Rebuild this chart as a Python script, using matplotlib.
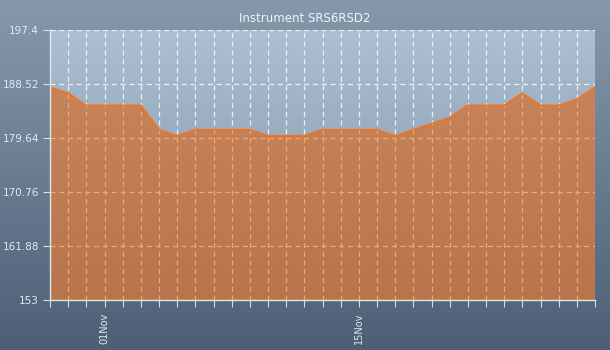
import matplotlib

matplotlib.use("Agg")
import matplotlib.pyplot as plt
import matplotlib.dates as mdates
import numpy as np
import pandas as pd

# --- data ---
dates = pd.date_range("2023-10-29", "2023-11-28", freq="D")
values = [188, 187, 185, 185, 185, 185, 181, 180, 181, 181, 181, 181, 180, 180, 180,
          181, 181, 181, 181, 180, 181, 182, 183, 185, 185, 185, 187, 185, 185, 186, 188]
y_ticks = [153, 161.88, 170.76, 179.64, 188.52, 197.4]
y_labels = ["153", "161.88", "170.76", "179.64", "188.52", "197.4"]
label_days = [1, 15]
title = "Instrument SRS6RSD2"

TXT = "#e4e9ef"
LINE = "#f07424"
DASH = (0, (4, 3))

fig = plt.figure(figsize=(6.1, 3.5), dpi=100)

# figure background gradient
bg = fig.add_axes([0, 0, 1, 1], zorder=-10)
grad = np.linspace(0, 1, 256).reshape(-1, 1)
top_c = np.array([0x86, 0x99, 0xac]) / 255
bot_c = np.array([0x4c, 0x5f, 0x75]) / 255
bg.imshow(top_c + (bot_c - top_c) * grad[..., None], aspect="auto", extent=[0, 1, 0, 1])
bg.set_axis_off()

ax = fig.add_axes([50 / 610, 50 / 350, 545 / 610, 270 / 350])
ax.set_facecolor("none")
x = mdates.date2num(dates)
x0, x1 = x[0], x[-1]
ylo, yhi = y_ticks[0], y_ticks[-1]

# plot-area gradient
pa_top = np.array([0xad, 0xbf, 0xd1]) / 255
pa_bot = np.array([0x7c, 0x90, 0xa6]) / 255
ax.imshow(pa_top + (pa_bot - pa_top) * grad[..., None], aspect="auto",
          extent=[x0, x1, ylo, yhi], zorder=0)

# white grid (visible above the area)
ax.set_xticks(x)
ax.set_yticks(y_ticks)
ax.grid(True, color="#eef1f4", ls=DASH, lw=0.9, zorder=1)

# filled area with vertical gradient
poly = ax.fill_between(x, values, ylo, color="none", lw=0, zorder=2)
clip = poly.get_paths()[0]
of_top = np.array([0xcb, 0x88, 0x5e]) / 255
of_bot = np.array([0xb8, 0x74, 0x4a]) / 255
fim = ax.imshow(of_top + (of_bot - of_top) * grad[..., None], aspect="auto",
                extent=[x0, x1, ylo, yhi], zorder=2)
fim.set_clip_path(clip, transform=ax.transData)

# light-orange grid inside the area
vl = ax.vlines(x, ylo, yhi, colors="#f4a66e", linestyles=DASH, lw=0.9, zorder=2.5)
hl = ax.hlines(y_ticks, x0, x1, colors="#f4a66e", linestyles=DASH, lw=0.9, zorder=2.5)
vl.set_clip_path(clip, transform=ax.transData)
hl.set_clip_path(clip, transform=ax.transData)

ax.plot(x, values, color=LINE, lw=1.3, zorder=3)

ax.set_xlim(x0, x1)
ax.set_ylim(ylo, yhi)

labels = [d.strftime("%d%b") if d.day in label_days else "" for d in dates]
ax.set_xticklabels(labels, rotation=90, fontsize=7, color=TXT)
ax.set_yticklabels(y_labels, fontsize=7.5, color=TXT)
ax.tick_params(axis="both", colors="#d8dee6", length=5, width=0.8, labelcolor=TXT)
ax.tick_params(axis="x", pad=4)
ax.tick_params(axis="y", pad=3)

for s in ("top", "right"):
    ax.spines[s].set_visible(False)
for s in ("left", "bottom"):
    ax.spines[s].set_color("#dfe5ec")
    ax.spines[s].set_linewidth(1.0)
    ax.spines[s].set_zorder(4)

fig.text(0.5, 1 - 18 / 350, title, ha="center", va="center", fontsize=8.5, color="#f2f4f7")

fig.savefig("out.png", dpi=100)
